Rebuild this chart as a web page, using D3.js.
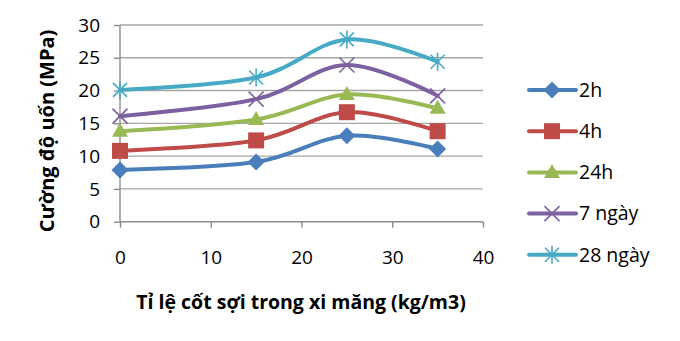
<!DOCTYPE html>
<meta charset="utf-8">
<html>
<head>
	<script src="https://cdn.jsdelivr.net/npm/d3@7"></script>
	<style>
		body { margin: 0; background: #fff; }
		text { font-family: "Open Sans", "Noto Sans", sans-serif; fill: #000; }
	</style>
</head>
<body>
	<svg id="chart" width="680" height="341"></svg>
	<script>
		// fibre content (kg/m3)
		var fibre = [0, 15, 25, 35];
		var seriesNames = ["2h", "4h", "24h", "7 ngày", "28 ngày"];
		var s2h = [7.9, 9.1, 13.1, 11.1];
		var s4h = [10.8, 12.4, 16.7, 13.8];
		var s24h = [13.8, 15.6, 19.4, 17.3];
		var s7d = [16.1, 18.7, 23.9, 19.2];
		var s28d = [20.1, 22.0, 27.8, 24.4];
		var colors = ["#4a7ebb", "#be4b48", "#98b954", "#7d60a0", "#46aac5"];
		var xTicks = [0, 10, 20, 30, 40];
		var yTicks = [0, 5, 10, 15, 20, 25, 30];

		var allSeries = [s2h, s4h, s24h, s7d, s28d];

		var svg = d3.select("#chart");

		var x = d3.scaleLinear().domain([0, 40]).range([120, 483]);
		var y = d3.scaleLinear().domain([0, 30]).range([221.7, 25]);

		// gridlines
		svg.append("g")
			.selectAll("line")
			.data(yTicks.slice(1))
			.enter().append("line")
				.attr("x1", x(0)).attr("x2", x(40))
				.attr("y1", function(d) { return y(d); })
				.attr("y2", function(d) { return y(d); })
				.attr("stroke", "#a6a6a6")
				.attr("stroke-width", 1.4);

		// y axis
		var yAxis = svg.append("g")
			.attr("transform", "translate(" + x(0) + ",0)")
			.call(d3.axisLeft(y).tickValues(yTicks).tickSize(6).tickPadding(14));
		// x axis
		var xAxis = svg.append("g")
			.attr("transform", "translate(0," + y(0) + ")")
			.call(d3.axisBottom(x).tickValues(xTicks).tickSize(6).tickPadding(23));

		[yAxis, xAxis].forEach(function(ax) {
			ax.select(".domain").attr("stroke", "#8c8c8c").attr("stroke-width", 1.4);
			ax.selectAll(".tick line").attr("stroke", "#8c8c8c").attr("stroke-width", 1.4);
			ax.selectAll(".tick text")
				.style("font-family", "'Open Sans', sans-serif")
				.style("font-size", "19px")
				.attr("fill", "#000");
		});
		yAxis.select(".domain").attr("d", "M0," + y(30) + "V" + y(0));
		xAxis.select(".domain").attr("d", "M" + x(0) + ",0H" + x(40));

		// axis titles
		svg.append("text")
			.attr("x", 301)
			.attr("y", 309)
			.attr("text-anchor", "middle")
			.style("font-size", "19.5px")
			.style("font-weight", "bold")
			.text("Tỉ lệ cốt sợi trong xi măng (kg/m3)");

		svg.append("text")
			.attr("transform", "translate(54,131) rotate(-90)")
			.attr("text-anchor", "middle")
			.style("font-size", "20px")
			.style("font-weight", "bold")
			.text("Cường độ uốn (MPa)");

		// marker shapes
		var diamond = { draw: function(c) { c.moveTo(0, -8.5); c.lineTo(8.5, 0); c.lineTo(0, 8.5); c.lineTo(-8.5, 0); c.closePath(); } };
		var square = { draw: function(c) { c.rect(-8, -8, 16, 16); } };
		var triangle = { draw: function(c) { c.moveTo(0, -8.5); c.lineTo(8, 5.5); c.lineTo(-8, 5.5); c.closePath(); } };
		var cross = { draw: function(c) { c.moveTo(-7.5, -7.5); c.lineTo(7.5, 7.5); c.moveTo(7.5, -7.5); c.lineTo(-7.5, 7.5); } };
		var star = { draw: function(c) { c.moveTo(-7, -7); c.lineTo(7, 7); c.moveTo(7, -7); c.lineTo(-7, 7); c.moveTo(0, -9); c.lineTo(0, 9); } };
		var shapes = [diamond, square, triangle, cross, star];
		var filled = [true, true, true, false, false];

		var line = d3.line()
			.x(function(d, i) { return x(fibre[i]); })
			.y(function(d) { return y(d); })
			.curve(d3.curveCardinal.tension(0));

		var groups = svg.append("g")
			.selectAll("g")
			.data(allSeries)
			.enter().append("g");

		groups.append("path")
			.attr("d", line)
			.attr("fill", "none")
			.attr("stroke", function(d, i) { return colors[i]; })
			.attr("stroke-width", 4)
			.attr("stroke-linecap", "round");

		groups.each(function(vals, si) {
			d3.select(this).selectAll(".mark")
				.data(vals)
				.enter().append("path")
					.attr("class", "mark")
					.attr("transform", function(d, i) { return "translate(" + x(fibre[i]) + "," + y(d) + ")"; })
					.attr("d", d3.symbol().type(shapes[si]))
					.attr("fill", filled[si] ? colors[si] : "none")
					.attr("stroke", colors[si])
					.attr("stroke-width", filled[si] ? 0 : 1.6);
		});

		// legend
		var legend = svg.append("g")
			.selectAll("g")
			.data(seriesNames)
			.enter().append("g")
				.attr("transform", function(d, i) { return "translate(0," + (90 + i * 41.2) + ")"; });

		legend.append("line")
			.attr("x1", 529).attr("x2", 576)
			.attr("stroke", function(d, i) { return colors[i]; })
			.attr("stroke-width", 4)
			.attr("stroke-linecap", "round");
		legend.append("path")
			.attr("transform", "translate(552,0)")
			.attr("d", function(d, i) { return d3.symbol().type(shapes[i])(); })
			.attr("fill", function(d, i) { return filled[i] ? colors[i] : "none"; })
			.attr("stroke", function(d, i) { return colors[i]; })
			.attr("stroke-width", function(d, i) { return filled[i] ? 0 : 1.6; });
		legend.append("text")
			.attr("x", 579)
			.attr("dy", "0.35em")
			.style("font-size", "19.5px")
			.text(function(d) { return d; });
	</script>
</body>
</html>
